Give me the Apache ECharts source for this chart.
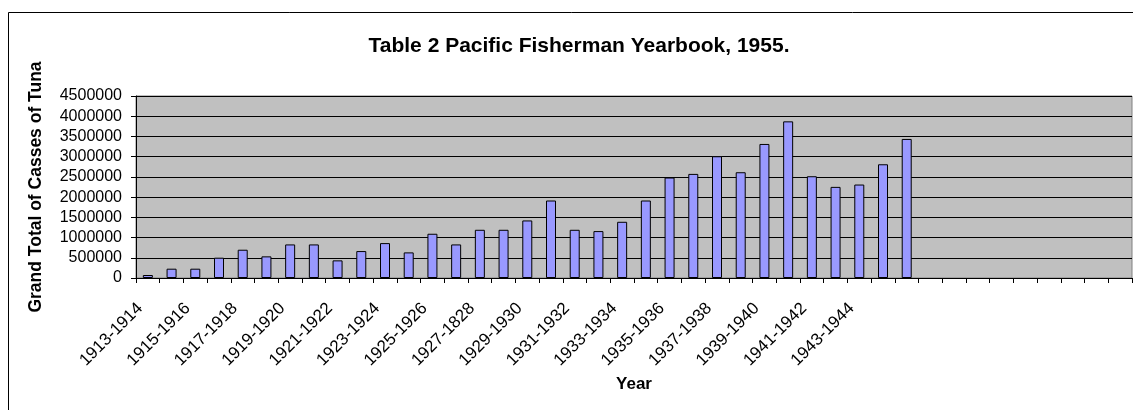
<!DOCTYPE html>
<html>
<head>
<meta charset="utf-8">
<script src="https://cdn.jsdelivr.net/npm/echarts@6/dist/echarts.min.js"></script>
<style>
  html, body { margin: 0; padding: 0; background: #fff; }
  #chart { width: 1133px; height: 410px; }
</style>
</head>
<body>
<div id="chart"></div>
<script>
// season labels (only every other one is shown on the axis)
var seasons = [
    '1913-1914', '1914-1915', '1915-1916', '1916-1917', '1917-1918', '1918-1919',
    '1919-1920', '1920-1921', '1921-1922', '1922-1923', '1923-1924', '1924-1925',
    '1925-1926', '1926-1927', '1927-1828', '1928-1929', '1929-1930', '1930-1931',
    '1931-1932', '1932-1933', '1933-1934', '1934-1935', '1935-1936', '1936-1937',
    '1937-1938', '1938-1939', '1939-1940', '1940-1941', '1941-1942', '1942-1943',
    '1943-1944', '1944-1945', '', '', '', '', '', '', '', '', '', ''
];

// grand total of cases of tuna
var cases = [
    74000, 230000, 230000, 502000, 699000, 535000, 830000, 830000,
    436000, 666000, 863000, 633000, 1094000, 830000, 1192000, 1192000,
    1423000, 1916000, 1192000, 1160000, 1390000, 1916000, 2484000, 2574000,
    3010000, 2615000, 3314000, 3873000, 2516000, 2253000, 2311000, 2812000,
    3438000
];

var yTicks = { min: 0, max: 4500000, step: 500000 };

var font = '"Liberation Sans", Arial, sans-serif';
var myChart = echarts.init(document.getElementById('chart'));

var option = {
    backgroundColor: '#fff',
    animation: false,
    title: {
        text: 'Table 2 Pacific Fisherman Yearbook, 1955.',
        left: 574,
        top: 31,
        textAlign: 'center',
        textStyle: {
            fontFamily: font,
            fontSize: 21,
            fontWeight: 'bold',
            color: '#000'
        }
    },
    graphic: [{
        type: 'rect',
        shape: { x: 8.5, y: 12.5, width: 1300, height: 600 },
        style: { fill: 'none', stroke: '#000', lineWidth: 1 },
        silent: true
    }],
    grid: {
        left: 136,
        top: 96,
        right: 1,
        bottom: 132,
        show: true,
        backgroundColor: '#C0C0C0',
        borderColor: '#808080',
        borderWidth: 1
    },
    xAxis: {
        type: 'category',
        data: seasons,
        name: 'Year',
        nameLocation: 'middle',
        nameGap: 98,
        nameTextStyle: {
            fontFamily: font,
            fontSize: 17,
            fontWeight: 'bold',
            color: '#000'
        },
        axisLine: { lineStyle: { color: '#000', width: 1 } },
        axisTick: { show: true, interval: 0, length: 5, lineStyle: { color: '#000' } },
        axisLabel: {
            interval: 1,
            rotate: 45,
            margin: 20,
            padding: [0, 11, 0, 0],
            fontFamily: font,
            fontSize: 17,
            color: '#000'
        },
        splitLine: { show: false }
    },
    yAxis: {
        type: 'value',
        min: yTicks.min,
        max: yTicks.max,
        interval: yTicks.step,
        name: 'Grand Total of Casses of Tuna',
        nameLocation: 'middle',
        nameGap: 91,
        nameTextStyle: {
            fontFamily: font,
            fontSize: 17.5,
            fontWeight: 'bold',
            color: '#000'
        },
        axisLine: { show: true, lineStyle: { color: '#000', width: 1 } },
        axisTick: { show: true, length: 5, lineStyle: { color: '#000' } },
        axisLabel: {
            margin: 14,
            fontFamily: font,
            fontSize: 16,
            color: '#000',
            formatter: function (v) { return String(v); }
        },
        splitLine: { show: true, lineStyle: { color: '#000', width: 1 } }
    },
    series: [{
        name: 'Grand Total',
        type: 'bar',
        data: cases,
        barWidth: 10,
        itemStyle: {
            color: '#9999FF',
            borderColor: '#000',
            borderWidth: 1
        }
    }]
};
myChart.setOption(option);
</script>
</body>
</html>
